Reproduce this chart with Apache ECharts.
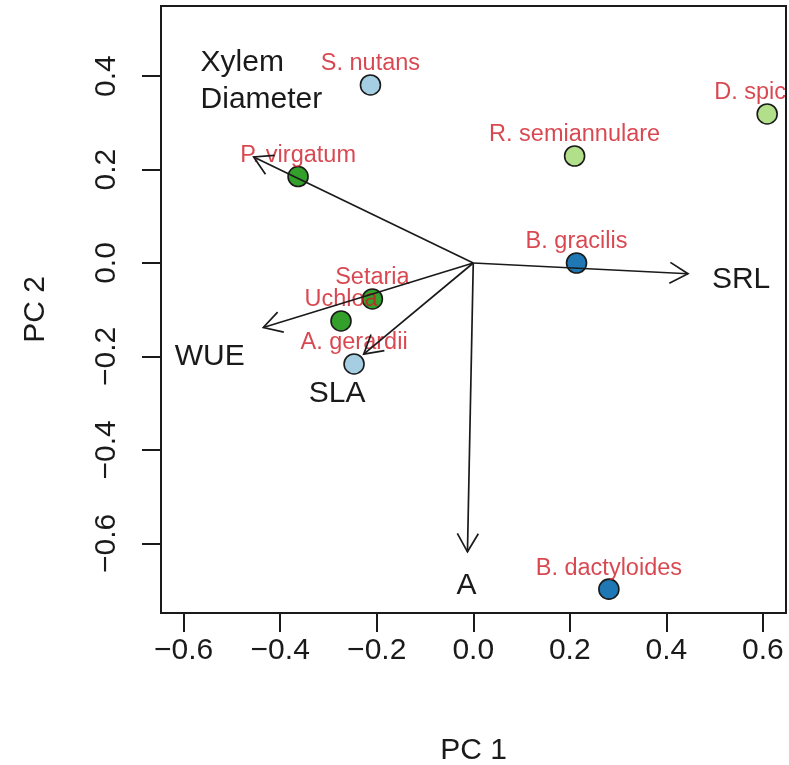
<!DOCTYPE html>
<html>
<head>
<meta charset="utf-8">
<script src="https://cdn.jsdelivr.net/npm/echarts@6/dist/echarts.min.js"></script>
<style>
  html, body { margin: 0; padding: 0; background: #fff; }
  #chart { width: 789px; height: 765px; }
</style>
</head>
<body>
<div id="chart"></div>
<script>
// Species scores (PC 1, PC 2) and their fill groups
const speciesNames = ['S. nutans', 'P. virgatum', 'R. semiannulare', 'D. spic', 'B. gracilis',
                      'Setaria', 'Uchloa', 'A. gerardii', 'B. dactyloides'];
const speciesPC1 = [-0.213, -0.363, 0.210, 0.609, 0.214, -0.209, -0.274, -0.247, 0.281];
const speciesPC2 = [0.381, 0.185, 0.229, 0.319, 0.000, -0.077, -0.124, -0.216, -0.698];
const speciesGroup = ['lightBlue', 'darkGreen', 'lightGreen', 'lightGreen', 'darkBlue',
                      'darkGreen', 'darkGreen', 'lightBlue', 'darkBlue'];
const groupColors = { lightBlue: '#a6cee3', darkBlue: '#1f78b4', lightGreen: '#b2df8a', darkGreen: '#33a02c' };

// Trait loadings: arrow tips and where each trait name sits
const traitNames = ['Xylem\nDiameter', 'WUE', 'SLA', 'SRL', 'A'];
const traitPC1 = [-0.455, -0.435, -0.227, 0.445, -0.012];
const traitPC2 = [0.227, -0.138, -0.195, -0.023, -0.618];
const traitLabelPC1 = [-0.565, -0.546, -0.282, 0.555, -0.014];
const traitLabelPC2 = [0.388, -0.200, -0.279, -0.036, -0.691];
const traitLabelAlign = ['left', 'center', 'center', 'center', 'center'];

// Tick positions
const xTicks = [-0.6, -0.4, -0.2, 0.0, 0.2, 0.4, 0.6];
const yTicks = [-0.6, -0.4, -0.2, 0.0, 0.2, 0.4];

const FONT = '"Liberation Sans", Arial, Helvetica, sans-serif';
const INK = '#1a1a1a';
const RED = '#d01a26';

const fmt = v => (v < 0 ? '\u2212' : '') + Math.abs(v).toFixed(1);

const pointData = speciesNames.map((n, i) => ({
  name: n,
  value: [speciesPC1[i], speciesPC2[i]],
  itemStyle: { color: groupColors[speciesGroup[i]] }
}));

const labelData = speciesNames.map((n, i) => ({
  name: n,
  value: [speciesPC1[i], speciesPC2[i]],
  label: n === 'D. spic' ? { offset: [-17, 0] } : {}
}));

const arrowData = traitNames.map((n, i) => [traitPC1[i], traitPC2[i]]);
const traitTextData = traitNames.map((n, i) => [traitLabelPC1[i], traitLabelPC2[i], i]);

const chart = echarts.init(document.getElementById('chart'), null, { renderer: 'canvas' });

chart.setOption({
  animation: false,
  backgroundColor: '#ffffff',
  grid: {
    left: 161, right: 3, top: 6, bottom: 152,
    outerBoundsMode: 'none', containLabel: false,
    show: true, borderColor: INK, borderWidth: 2, backgroundColor: 'transparent'
  },
  xAxis: {
    type: 'value', min: -0.647, max: 0.648,
    name: 'PC 1', nameLocation: 'middle', nameGap: 123,
    nameTextStyle: { fontFamily: FONT, fontSize: 30, color: INK },
    splitLine: { show: false },
    axisLine: { show: false, onZero: false },
    axisTick: { show: true, inside: false, length: 19, customValues: xTicks,
                lineStyle: { color: INK, width: 2 } },
    axisLabel: { show: true, customValues: xTicks, margin: 23, formatter: fmt,
                 fontFamily: FONT, fontSize: 30, color: INK }
  },
  yAxis: {
    type: 'value', min: -0.749, max: 0.550,
    name: 'PC 2', nameLocation: 'middle', nameGap: 110, nameRotate: 90,
    nameTextStyle: { fontFamily: FONT, fontSize: 30, color: INK },
    splitLine: { show: false },
    axisLine: { show: false, onZero: false },
    axisTick: { show: true, inside: false, length: 19, customValues: yTicks,
                lineStyle: { color: INK, width: 2 } },
    axisLabel: { show: true, customValues: yTicks, rotate: 90, margin: 39, formatter: fmt,
                 fontFamily: FONT, fontSize: 30, color: INK }
  },
  series: [
    {
      // species points
      type: 'scatter', z: 2,
      symbol: 'circle', symbolSize: 20,
      itemStyle: { borderColor: INK, borderWidth: 1.6, opacity: 1 },
      data: pointData
    },
    {
      // species names above their points
      type: 'scatter', z: 3,
      symbolSize: 0, silent: true,
      label: {
        show: true, position: 'top', distance: 9,
        formatter: p => p.name,
        fontFamily: FONT, fontSize: 23.5, color: RED
      },
      data: labelData
    },
    {
      // trait loading arrows from the origin
      type: 'custom', z: 4, clip: false, silent: true,
      data: arrowData,
      renderItem: (params, api) => {
        const o = api.coord([0, 0]);
        const t = api.coord([api.value(0), api.value(1)]);
        const ang = Math.atan2(t[1] - o[1], t[0] - o[0]);
        const L = 21, a = Math.PI / 6;
        const p1 = [t[0] - L * Math.cos(ang - a), t[1] - L * Math.sin(ang - a)];
        const p2 = [t[0] - L * Math.cos(ang + a), t[1] - L * Math.sin(ang + a)];
        const st = { stroke: INK, lineWidth: 1.7, fill: null };
        return {
          type: 'group',
          children: [
            { type: 'line', shape: { x1: o[0], y1: o[1], x2: t[0], y2: t[1] }, style: st },
            { type: 'polyline', shape: { points: [p1, t, p2] }, style: st }
          ]
        };
      }
    },
    {
      // trait names
      type: 'custom', z: 5, clip: false, silent: true,
      data: traitTextData,
      renderItem: (params, api) => {
        const idx = api.value(2);
        const p = api.coord([api.value(0), api.value(1)]);
        return {
          type: 'text',
          x: p[0], y: p[1],
          style: {
            text: traitNames[idx],
            fill: INK,
            font: '30px ' + FONT,
            lineHeight: 37,
            align: traitLabelAlign[idx],
            verticalAlign: 'middle'
          }
        };
      }
    }
  ]
});
</script>
</body>
</html>
